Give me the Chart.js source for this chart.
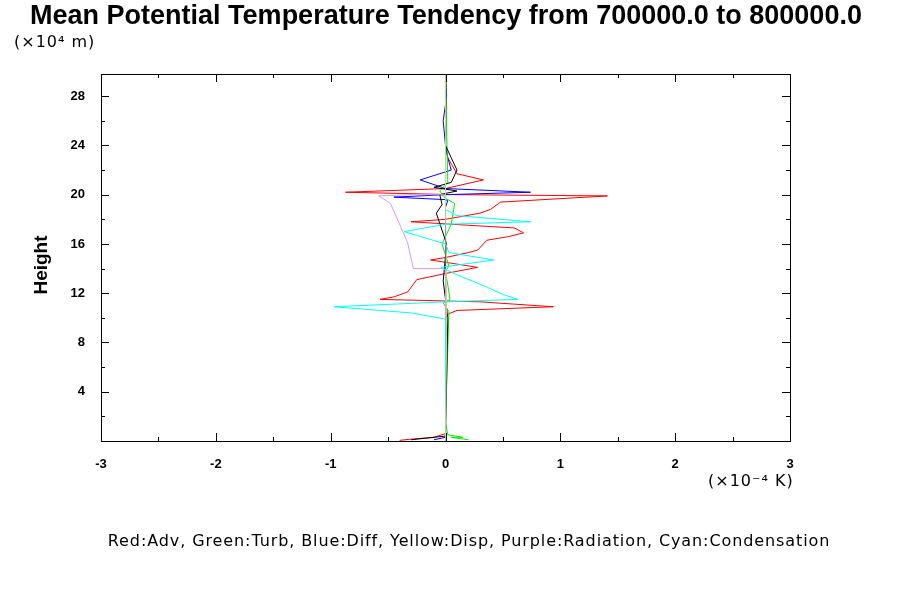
<!DOCTYPE html>
<html><head><meta charset="utf-8">
<script src="https://cdn.jsdelivr.net/npm/chart.js@4/dist/chart.umd.min.js"></script>
<style>html,body{margin:0;background:#fff}#w{width:900px;height:600px;position:relative}</style>
</head><body><div id="w"><canvas id="c"></canvas></div>
<script>
const xTicks=[-3,-2,-1,0,1,2,3];
const yTicks=[4,8,12,16,20,24,28];
// [x(1e-4 K), y(1e4 m)]
const advX=[-0.4,-0.3,-0.1,0,0,0.02,0.1,0.94,0.3,-0.57,-0.45,-0.33,-0.25,0,0.28,-0.13,0,0.2,0.28,0.36,0.55,0.68,0.6,0.05,-0.3,0,0.3,0.39,0.48,1.41,0.1,-0.87,0,0.33,0.1,0.02,0,0.01,0];
const advY=[0.05,0.15,0.3,0.6,9.8,10.3,10.6,10.9,11.3,11.5,11.7,12.1,13.1,13.6,14.1,14.7,14.9,15.3,15.5,16.3,16.6,16.9,17.3,17.6,17.8,18.0,18.5,18.8,19.4,19.9,20.0,20.2,20.5,21.2,21.7,23,24,27,29.8];
const turbX=[0.2,0.05,0.15,0.02,0,0.03,-0.02,0.04,0,0.03,-0.03,0.05,0.08,0,-0.05,0.02,0];
const turbY=[0.1,0.3,0.3,0.5,1.5,10.5,11.2,11.5,13.8,14.2,16,17.6,19.3,19.7,20.3,21,29.8];
const diffX=[-0.1,0,0,0.02,0,-0.45,0,0.74,0,-0.22,0.05,0.02,0,-0.02,0.01,0];
const diffY=[0.1,0.3,19.0,19.5,19.6,19.8,20.0,20.2,20.5,21.2,22.0,23,24,26,28,29.8];
const dispX=[0,0.01,0,0];
const dispY=[0,10,19,29.8];
const radX=[0,0,-0.03,-0.28,-0.33,-0.39,-0.48,-0.58,-0.3,0,0];
const radY=[0,13.9,14.0,14.0,16.1,17.4,19.3,19.9,20.0,20.0,29.8];
const condX=[0,0,-0.3,-0.97,0,0.63,0.5,0.36,0.1,-0.04,0.42,0.03,0,-0.36,0,0.74,0.1,0,0,0];
const condY=[0,9.9,10.4,10.9,11.3,11.5,11.9,12.5,13.5,14.1,14.7,15.3,16,17.0,17.6,17.8,18.3,18.8,20,29.8];
const blackX=[-0.3,0,0.02,-0.02,0.01,-0.08,-0.03,-0.05,0.1,-0.1,0.05,0.1,0.05,0];
const blackY=[0.1,0.4,10,13,16,18.5,19.2,20.0,20.3,20.6,21.0,22,23,24];
const pts=(xs,ys)=>xs.map((x,i)=>({x,y:ys[i]}));
const ds=(xs,ys,c)=>({data:pts(xs,ys),borderColor:c,borderWidth:1,pointRadius:0,showLine:true,tension:0});
const tickPlugin={id:'tk',afterDraw(ch){
 const {ctx,chartArea:a,scales:{x,y}}=ch;ctx.save();ctx.strokeStyle='#000';ctx.lineWidth=1;
 for(let v=-3;v<=3.001;v+=0.5){const p=Math.round(x.getPixelForValue(v))+0.5;const L=Number.isInteger(v)?8:4;
  ctx.beginPath();ctx.moveTo(p,a.bottom);ctx.lineTo(p,a.bottom-L);ctx.moveTo(p,a.top);ctx.lineTo(p,a.top+L);ctx.stroke();}
 for(let v=2;v<=29;v+=2){const p=Math.round(y.getPixelForValue(v))+0.5;const L=v%4===0?8:4;
  ctx.beginPath();ctx.moveTo(a.left,p);ctx.lineTo(a.left+L,p);ctx.moveTo(a.right,p);ctx.lineTo(a.right-L,p);ctx.stroke();}
 ctx.strokeRect(a.left+0.5,a.top+0.5,a.right-a.left,a.bottom-a.top);
 ctx.fillStyle='#000';ctx.textBaseline='middle';
 ctx.font='bold 27px "Liberation Sans",Arial';ctx.textAlign='center';
 ctx.fillText('Mean Potential Temperature Tendency from 700000.0 to 800000.0',446,17);
 ctx.font='16px "DejaVu Sans"';ctx.textAlign='left';ctx.letterSpacing='1px';
 ctx.fillText('(×10⁴ m)',14,43);ctx.fillText('(×10⁻⁴ K)',708,482);
 ctx.textAlign='center';ctx.letterSpacing='0.9px';ctx.fillText('Red:Adv, Green:Turb, Blue:Diff, Yellow:Disp, Purple:Radiation, Cyan:Condensation',469,542);
 ctx.letterSpacing='0px';
 ctx.font='bold 19px "Liberation Sans",Arial';ctx.translate(42,265);ctx.rotate(-Math.PI/2);ctx.fillText('Height',0,0);
 ctx.restore();}};
new Chart(document.getElementById('c'),{type:'scatter',
 data:{datasets:[ds(dispX,dispY,'#cccc99'),ds(condX,condY,'#00ffff'),ds(radX,radY,'#dd99dd'),ds(blackX,blackY,'#000000'),ds(turbX,turbY,'#00ee00'),ds(diffX,diffY,'#0000ff'),ds(advX,advY,'#ff0000')]},
 options:{responsive:true,maintainAspectRatio:false,animation:false,
  layout:{padding:{left:0,right:110,top:74,bottom:0}},
  plugins:{legend:{display:false},tooltip:{enabled:false}},
  scales:{
   x:{type:'linear',min:-3,max:3,grid:{display:false},border:{display:false},
      afterBuildTicks:s=>{s.ticks=xTicks.map(v=>({value:v}));},afterFit:s=>{s.height=159;},
      ticks:{color:'#000',font:{family:'"Liberation Sans",Arial',weight:'bold',size:13},padding:8}},
   y:{type:'linear',min:0,max:29.8,grid:{display:false},border:{display:false},
      afterBuildTicks:s=>{s.ticks=yTicks.map(v=>({value:v}));},afterFit:s=>{s.width=101;},
      ticks:{color:'#000',font:{family:'"Liberation Sans",Arial',weight:'bold',size:13},padding:8}}}},
 plugins:[tickPlugin]});
</script></body></html>
